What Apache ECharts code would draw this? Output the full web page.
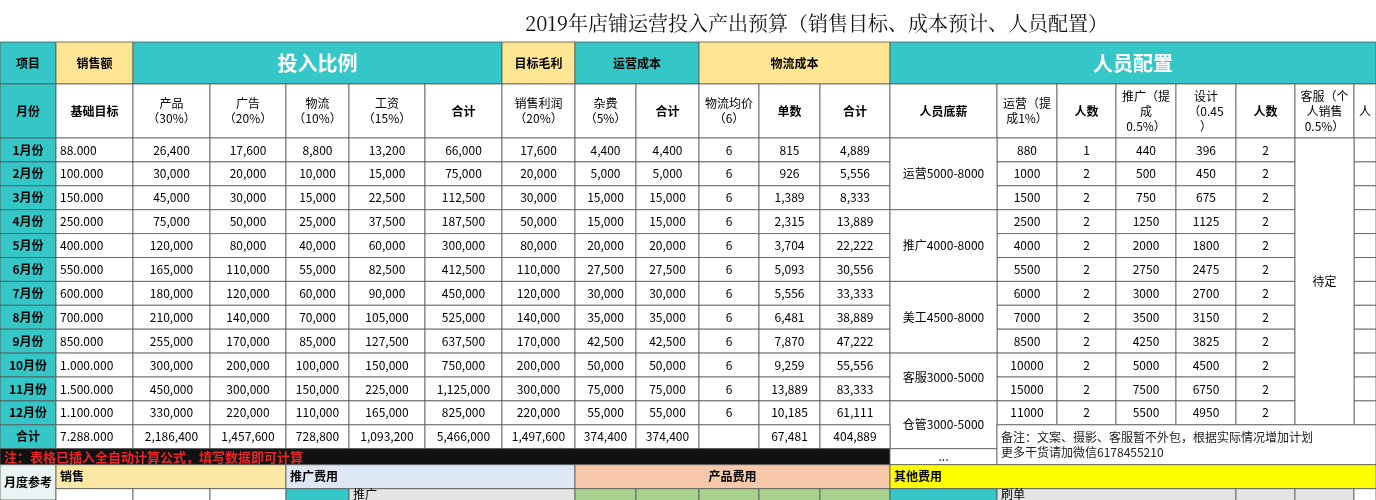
<!DOCTYPE html>
<html lang="zh">
<head>
<meta charset="UTF-8">
<title>2019年店铺运营投入产出预算</title>
<script src="https://cdn.jsdelivr.net/npm/echarts@6/dist/echarts.min.js"></script>
<style>html,body{margin:0;padding:0;background:#fff}</style>
</head>
<body>
<div id="main" style="width:1376px;height:500px;"></div>
<script>
// 列边界（像素刻度）与行边界
var colEdges = [0, 56, 133, 210, 286, 349, 425, 502, 575, 636, 699, 759, 820, 890, 997, 1057, 1116, 1176, 1236, 1295, 1354, 1376];
var months = ['1月份','2月份','3月份','4月份','5月份','6月份','7月份','8月份','9月份','10月份','11月份','12月份'];
var baseTarget = [88000,100000,150000,250000,400000,550000,600000,700000,850000,1000000,1500000,1100000];
var product = [26400,30000,45000,75000,120000,165000,180000,210000,255000,300000,450000,330000];
var advert = [17600,20000,30000,50000,80000,110000,120000,140000,170000,200000,300000,220000];
var logistics = [8800,10000,15000,25000,40000,55000,60000,70000,85000,100000,150000,110000];
var wages = [13200,15000,22500,37500,60000,82500,90000,105000,127500,150000,225000,165000];
var inputTotal = [66000,75000,112500,187500,300000,412500,450000,525000,637500,750000,1125000,825000];
var profit = [17600,20000,30000,50000,80000,110000,120000,140000,170000,200000,300000,220000];
var misc = [4400,5000,15000,15000,20000,27500,30000,35000,42500,50000,75000,55000];
var opsTotal = [4400,5000,15000,15000,20000,27500,30000,35000,42500,50000,75000,55000];
var orders = [815,926,1389,2315,3704,5093,5556,6481,7870,9259,13889,10185];
var shipTotal = [4889,5556,8333,13889,22222,30556,33333,38889,47222,55556,83333,61111];
var opsPay = [880,1000,1500,2500,4000,5500,6000,7000,8500,10000,15000,11000];
var opsCount = [1,2,2,2,2,2,2,2,2,2,2,2];
var promoPay = [440,500,750,1250,2000,2750,3000,3500,4250,5000,7500,5500];
var designPay = [396,450,675,1125,1800,2475,2700,3150,3825,4500,6750,4950];
var designCount = [2,2,2,2,2,2,2,2,2,2,2,2];
var totalsRow = ['7.288.000','2,186,400','1,457,600','728,800','1,093,200','5,466,000','1,497,600','374,400','374,400','','67,481','404,889'];
var staffGroups = [['运营5000-8000',0,3],['推广4000-8000',3,6],['美工4500-8000',6,9],['客服3000-5000',9,11],['仓管3000-5000',11,13]];

var TEAL = '#35c6c8', YEL = '#fde594';
var rowTop = 138, rowH = 23.9;
function rY(i){ return rowTop + i*rowH; }
function comma(v){ return v.toLocaleString('en-US'); }
function dots(v){ return v.toLocaleString('en-US').replace(/,/g,'.'); }

var cells = [];
function cell(c0, c1, y0, y1, text, o){
  o = o || {};
  cells.push([colEdges[c0], colEdges[c1], y0, y1, text, o.fill || '#fff', o.color || '#000', o.size || 12, o.bold ? 'bold' : 'normal', o.align || 'center']);
}
// header row 1
var h1 = 42, h2 = 84, h3 = 138;
cell(0,1,h1,h2,'项目',{fill:TEAL,bold:1});
cell(1,2,h1,h2,'销售额',{fill:YEL,bold:1});
cell(2,7,h1,h2,'投入比例',{fill:TEAL,color:'#fff',size:20,bold:1});
cell(7,8,h1,h2,'目标毛利',{fill:YEL,bold:1});
cell(8,10,h1,h2,'运营成本',{fill:TEAL,bold:1});
cell(10,13,h1,h2,'物流成本',{fill:YEL,bold:1});
cell(13,21,h1,h2,'人员配置',{fill:TEAL,color:'#fff',size:20,bold:1});
// header row 2
var heads = ['基础目标','产品\n（30%）','广告\n（20%）','物流\n（10%）','工资\n（15%）','合计','销售利润\n（20%）','杂费\n（5%）','合计','物流均价\n（6）','单数','合计','人员底薪','运营（提\n成1%）','人数','推广（提\n成\n0.5%）','设计\n（0.45\n）','人数','客服（个\n人销售\n0.5%）','人'];
cell(0,1,h2,h3,'月份',{fill:TEAL,bold:1});
heads.forEach(function(t,i){ cell(i+1,i+2,h2,h3,t,{bold:i===0||i===5||i===8||i===10||i===11||i===12||i===14||i===17}); });
// data rows
var numCols = [product,advert,logistics,wages,inputTotal,profit,misc,opsTotal];
months.forEach(function(m,r){
  var y0 = rY(r), y1 = rY(r+1);
  cell(0,1,y0,y1,m,{fill:TEAL,bold:1});
  cell(1,2,y0,y1,dots(baseTarget[r]),{align:'left'});
  numCols.forEach(function(a,k){ cell(k+2,k+3,y0,y1,comma(a[r])); });
  cell(10,11,y0,y1,'6');
  cell(11,12,y0,y1,comma(orders[r]));
  cell(12,13,y0,y1,comma(shipTotal[r]));
  cell(14,15,y0,y1,String(opsPay[r]));
  cell(15,16,y0,y1,String(opsCount[r]));
  cell(16,17,y0,y1,String(promoPay[r]));
  cell(17,18,y0,y1,String(designPay[r]));
  cell(18,19,y0,y1,String(designCount[r]));
  cell(20,21,y0,y1,'');
});
cell(19,20,rY(0),rY(12),'待定');
staffGroups.forEach(function(g){ cell(13,14,rY(g[1]),rY(g[2]),g[0]); });
// totals
var tY0 = rY(12), tY1 = rY(13);
cell(0,1,tY0,tY1,'合计',{fill:TEAL,bold:1});
totalsRow.forEach(function(t,i){ cell(i+1,i+2,tY0,tY1,t,{align:i===0?'left':'center'}); });
// note row
var nY1 = tY1 + 16;
cell(0,13,tY1,nY1,'注：表格已插入全自动计算公式，填写数据即可计算',{fill:'#111',color:'#e8262a',size:13,bold:1,align:'left'});
cell(13,14,tY1,nY1,'...');
cell(14,21,tY0,nY1,'备注：文案、摄影、客服暂不外包，根据实际情况增加计划\n更多干货请加微信6178455210',{align:'left',color:'#222'});
// section row
var sY1 = nY1 + 24;
cell(0,1,nY1,500,'月度参考',{fill:'#eaf4f4',bold:1});
cell(1,4,nY1,sY1,'销售',{fill:'#fde9a6',bold:1,align:'left'});
cell(4,8,nY1,sY1,'推广费用',{fill:'#dde8f4',bold:1,align:'left'});
cell(8,13,nY1,sY1,'产品费用',{fill:'#f7c9aa',bold:1});
cell(13,21,nY1,sY1,'其他费用',{fill:'#ffff00',bold:1,align:'left'});
cell(1,2,sY1,520,''); cell(2,3,sY1,520,''); cell(3,4,sY1,520,'');
cell(4,5,sY1,520,'',{fill:TEAL});
cell(5,8,sY1,520,'推广',{fill:'#e4e4e4',align:'left'});
for (var c = 8; c < 13; c++) cell(c,c+1,sY1,520,'',{fill:'#a9d18e'});
cell(13,14,sY1,520,'',{fill:TEAL});
cell(14,18,sY1,520,'刷单',{fill:'#e4e4e4',align:'left'});
cell(18,19,sY1,520,'',{fill:'#e4e4e4'});
cell(19,20,sY1,520,'',{fill:'#e4e4e4'});
cell(20,21,sY1,520,'');

var myChart = echarts.init(document.getElementById('main'));
myChart.setOption({
  animation: false,
  title: {
    text: '2019年店铺运营投入产出预算（销售目标、成本预计、人员配置）',
    left: 520, top: 8,
    textStyle: {fontFamily: 'Noto Serif CJK SC, Noto Sans CJK SC', fontSize: 20, fontWeight: 'normal', color: '#111'}
  },
  grid: {left: 0, right: 0, top: 0, bottom: 0},
  xAxis: {type: 'value', min: 0, max: 1376, show: false},
  yAxis: {type: 'value', min: 0, max: 500, inverse: true, show: false},
  series: [{
    type: 'custom',
    data: cells,
    encode: {x: [0, 1], y: [2, 3]},
    renderItem: function (params, api) {
      var p0 = api.coord([api.value(0), api.value(2)]);
      var p1 = api.coord([api.value(1), api.value(3)]);
      var w = p1[0] - p0[0], h = p1[1] - p0[1];
      var c = cells[params.dataIndex];
      var align = c[9];
      return {
        type: 'group',
        children: [{
          type: 'rect',
          shape: {x: p0[0], y: p0[1], width: w, height: h},
          style: {fill: c[5], stroke: '#555', lineWidth: 0.8}
        }, {
          type: 'text',
          style: {
            x: align === 'left' ? p0[0] + 4 : p0[0] + w / 2,
            y: p0[1] + Math.min(h, 500 - p0[1]) / 2,
            text: c[4],
            fill: c[6],
            fontSize: c[7],
            fontWeight: c[8],
            fontFamily: 'Noto Sans CJK SC',
            align: align, verticalAlign: 'middle', lineHeight: 15
          }
        }]
      };
    }
  }]
});
</script>
</body>
</html>
